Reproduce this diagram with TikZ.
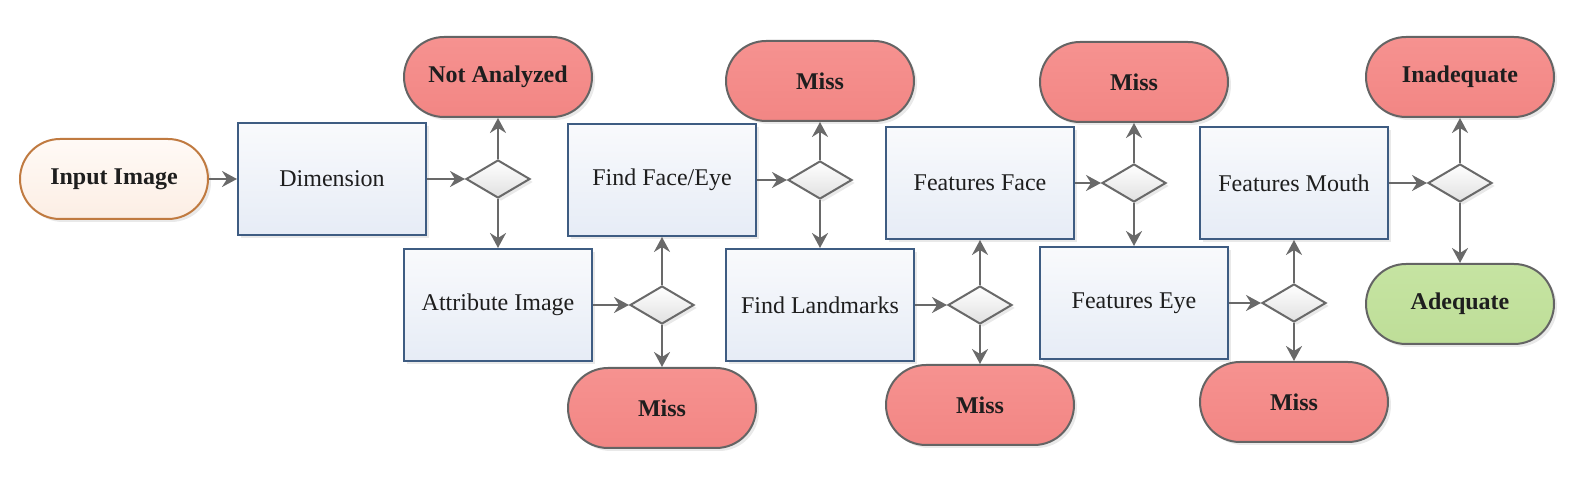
\documentclass[tikz,border=0pt]{standalone}
\usepackage{fontspec}
\setmainfont{Liberation Serif}
\usetikzlibrary{arrows.meta,shapes.geometric,shadows}
\definecolor{boxborder}{RGB}{62,92,130}
\definecolor{boxtop}{RGB}{249,250,252}
\definecolor{boxbot}{RGB}{230,236,246}
\definecolor{redfill}{RGB}{242,134,132}
\definecolor{redtop}{RGB}{246,146,144}
\definecolor{greenfill}{RGB}{190,222,152}
\definecolor{greentop}{RGB}{198,228,162}
\definecolor{termborder}{RGB}{100,100,100}
\definecolor{inborder}{RGB}{192,122,64}
\definecolor{intop}{RGB}{255,250,246}
\definecolor{inbot}{RGB}{252,238,228}
\definecolor{arrowgray}{RGB}{105,105,105}
\definecolor{txt}{RGB}{30,30,30}
\begin{document}
\begin{tikzpicture}[x=0.5pt,y=-0.5pt,
  shadowed/.style={drop shadow={shadow xshift=1.5pt,shadow yshift=-1.5pt,fill=black!25,opacity=0.35}},
  procbox/.style={rectangle, draw=boxborder, line width=1pt, minimum width=94pt, minimum height=56pt,
    top color=boxtop, bottom color=boxbot, shadowed, inner sep=0pt, text=txt,
    font=\fontsize{12}{14}\selectfont},
  term/.style={rectangle, rounded corners=20pt, draw=termborder, line width=1pt, minimum width=94pt,
    minimum height=40pt, inner sep=0pt, shadowed, text=txt, font=\fontsize{12}{14}\selectfont\bfseries},
  missterm/.style={term, top color=redtop, bottom color=redfill},
  goodterm/.style={term, top color=greentop, bottom color=greenfill},
  startterm/.style={term, draw=inborder, top color=intop, bottom color=inbot},
  dec/.style={diamond, aspect=1.68, minimum width=32pt, minimum height=19pt, inner sep=0pt,
    draw=arrowgray, line width=1pt, top color=white, bottom color=black!12, shadowed},
  flow/.style={draw=arrowgray, line width=1.1pt, -{Stealth[length=7.5pt,width=8pt,inset=2.5pt]}}
]
\useasboundingbox (0,0) rectangle (1587,485);

\node[startterm] (in) at (114,179) {Input Image};
\node[procbox] (dim) at (332,179) {Dimension};
\node[dec] (d1) at (498,179) {};
\node[missterm] (na) at (498,77) {Not Analyzed};

\node[procbox] (attr) at (498,305) {Attribute Image};
\node[dec] (d2) at (662,305) {};
\node[missterm] (m1) at (662,408) {Miss};

\node[procbox] (ff) at (662,180) {Find Face/Eye};
\node[dec] (d3) at (820,180) {};
\node[missterm] (m2) at (820,81) {Miss};

\node[procbox] (fl) at (820,305) {Find Landmarks};
\node[dec] (d4) at (980,305) {};
\node[missterm] (m3) at (980,405) {Miss};

\node[procbox] (fface) at (980,183) {Features Face};
\node[dec] (d5) at (1134,183) {};
\node[missterm] (m4) at (1134,82) {Miss};

\node[procbox] (feye) at (1134,303) {Features Eye};
\node[dec] (d6) at (1294,303) {};
\node[missterm] (m5) at (1294,402) {Miss};

\node[procbox] (fmouth) at (1294,183) {Features Mouth};
\node[dec] (d7) at (1460,183) {};
\node[missterm] (inad) at (1460,77) {Inadequate};
\node[goodterm] (adeq) at (1460,304) {Adequate};

\draw[flow] (in) -- (dim);
\draw[flow] (dim) -- (d1);
\draw[flow] (d1) -- (na);
\draw[flow] (d1) -- (attr);
\draw[flow] (attr) -- (d2);
\draw[flow] (d2) -- (ff);
\draw[flow] (d2) -- (m1);
\draw[flow] (ff) -- (d3);
\draw[flow] (d3) -- (m2);
\draw[flow] (d3) -- (fl);
\draw[flow] (fl) -- (d4);
\draw[flow] (d4) -- (fface);
\draw[flow] (d4) -- (m3);
\draw[flow] (fface) -- (d5);
\draw[flow] (d5) -- (m4);
\draw[flow] (d5) -- (feye);
\draw[flow] (feye) -- (d6);
\draw[flow] (d6) -- (fmouth);
\draw[flow] (d6) -- (m5);
\draw[flow] (fmouth) -- (d7);
\draw[flow] (d7) -- (inad);
\draw[flow] (d7) -- (adeq);
\end{tikzpicture}
\end{document}
